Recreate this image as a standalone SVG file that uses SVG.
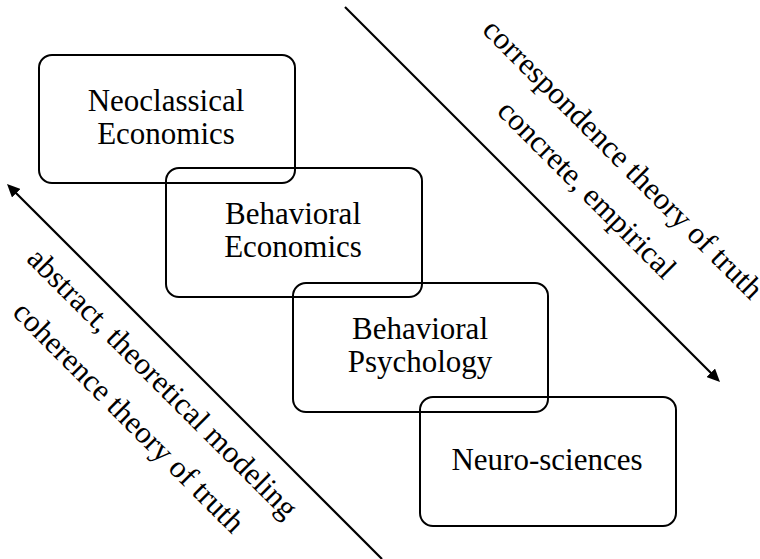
<svg xmlns="http://www.w3.org/2000/svg" width="760" height="559" viewBox="0 0 760 559">
  <style>
    .box { fill: none; stroke: #000; stroke-width: 2; }
    .lbl { font-family: "Liberation Serif", "Times New Roman", serif; font-size: 31px; fill: #000; text-anchor: middle; }
    .axis { fill: none; stroke: #000; stroke-width: 2.2; }
  </style>
  <defs>
    <marker id="head" markerUnits="userSpaceOnUse" markerWidth="14" markerHeight="12" refX="1" refY="6" orient="auto">
      <path d="M0,0 L13,6 L0,12 Z" fill="#000"/>
    </marker>
  </defs>
  <rect width="760" height="559" fill="#fff"/>

  <!-- diagonal axes -->
  <g id="connectors">
    <path class="axis" d="M382,559 L15.5,192.5" marker-end="url(#head)"/>
    <path class="axis" d="M345,7 L711.5,373.5" marker-end="url(#head)"/>
  </g>

  <!-- staircase of disciplines -->
  <g id="neoclassical">
    <rect class="box" x="39" y="55" width="256" height="128" rx="13"/>
    <text class="lbl" x="166" y="111">Neoclassical</text>
    <text class="lbl" x="166" y="144">Economics</text>
  </g>
  <g id="behavioral-economics">
    <rect class="box" x="166" y="168" width="256" height="129" rx="13"/>
    <text class="lbl" x="293" y="224">Behavioral</text>
    <text class="lbl" x="293" y="257">Economics</text>
  </g>
  <g id="behavioral-psychology">
    <rect class="box" x="293" y="283" width="255" height="129" rx="13"/>
    <text class="lbl" x="420" y="339">Behavioral</text>
    <text class="lbl" x="420" y="372">Psychology</text>
  </g>
  <g id="neuro-sciences">
    <rect class="box" x="420" y="397" width="256" height="129" rx="13"/>
    <text class="lbl" x="547" y="470">Neuro-sciences</text>
  </g>

  <!-- axis captions -->
  <g id="left-caption" transform="rotate(45)">
    <text class="lbl" x="386" y="166">abstract, theoretical modeling</text>
    <text class="lbl" x="386" y="214">coherence theory of truth</text>
  </g>
  <g id="right-caption" transform="rotate(45)">
    <text class="lbl" x="553" y="-318">correspondence theory of truth</text>
    <text class="lbl" x="549" y="-271">concrete, empirical</text>
  </g>
</svg>
